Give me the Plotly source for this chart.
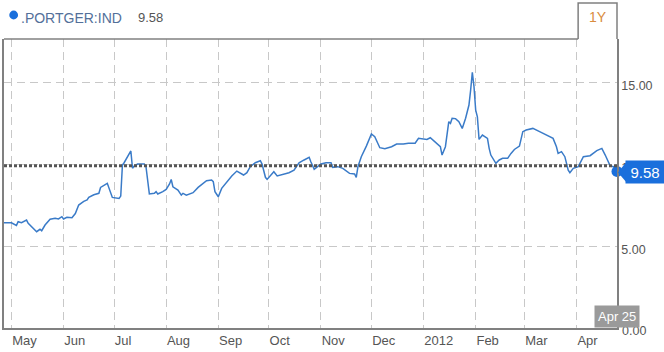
import plotly.graph_objects as go

# ---- data ----
dates = [
    "2011-04-26",
    "2011-05-01", "2011-05-04", "2011-05-05", "2011-05-07", "2011-05-10", "2011-05-11", "2011-05-13",
    "2011-05-16", "2011-05-18", "2011-05-19", "2011-05-21", "2011-05-24", "2011-05-27", "2011-05-29", "2011-05-31",
    "2011-06-01", "2011-06-03", "2011-06-06", "2011-06-08", "2011-06-10", "2011-06-13", "2011-06-15",
    "2011-06-16", "2011-06-19", "2011-06-22", "2011-06-23", "2011-06-27", "2011-06-30",
    "2011-07-04", "2011-07-05", "2011-07-06", "2011-07-07", "2011-07-11", "2011-07-12", "2011-07-13", "2011-07-15",
    "2011-07-19", "2011-07-20", "2011-07-22", "2011-07-25", "2011-07-26", "2011-07-27", "2011-07-30",
    "2011-08-01", "2011-08-03", "2011-08-04", "2011-08-05", "2011-08-08", "2011-08-10", "2011-08-11", "2011-08-13",
    "2011-08-17", "2011-08-20", "2011-08-22", "2011-08-25", "2011-08-28", "2011-08-29", "2011-08-30",
    "2011-09-01", "2011-09-03", "2011-09-06", "2011-09-09", "2011-09-12", "2011-09-14", "2011-09-16",
    "2011-09-18", "2011-09-20", "2011-09-23", "2011-09-26", "2011-09-27", "2011-09-29", "2011-09-30",
    "2011-10-02", "2011-10-04", "2011-10-06", "2011-10-08", "2011-10-11", "2011-10-13", "2011-10-16",
    "2011-10-19", "2011-10-22", "2011-10-25", "2011-10-26", "2011-10-28", "2011-10-30",
    "2011-11-01", "2011-11-04", "2011-11-07", "2011-11-08", "2011-11-11", "2011-11-14", "2011-11-17",
    "2011-11-18", "2011-11-21", "2011-11-22", "2011-11-23", "2011-11-25", "2011-11-28", "2011-11-30",
    "2011-12-01", "2011-12-03", "2011-12-06", "2011-12-09", "2011-12-13", "2011-12-16", "2011-12-20",
    "2011-12-23", "2011-12-27", "2011-12-29",
    "2012-01-01", "2012-01-03", "2012-01-05", "2012-01-07", "2012-01-09", "2012-01-11", "2012-01-12",
    "2012-01-14", "2012-01-16", "2012-01-17", "2012-01-18", "2012-01-20", "2012-01-22", "2012-01-24",
    "2012-01-26", "2012-01-28", "2012-01-29", "2012-01-30", "2012-01-31",
    "2012-02-01", "2012-02-02", "2012-02-03", "2012-02-05", "2012-02-08", "2012-02-09", "2012-02-10",
    "2012-02-13", "2012-02-15", "2012-02-17", "2012-02-20", "2012-02-22", "2012-02-24", "2012-02-27", "2012-02-29",
    "2012-03-02", "2012-03-06", "2012-03-10", "2012-03-14", "2012-03-18", "2012-03-20", "2012-03-21",
    "2012-03-23", "2012-03-25", "2012-03-27", "2012-03-28", "2012-03-30",
    "2012-04-02", "2012-04-05", "2012-04-09", "2012-04-13", "2012-04-16", "2012-04-18", "2012-04-20",
    "2012-04-21", "2012-04-23", "2012-04-25",
]

values = [
    6.44,
    6.44, 6.28, 6.5, 6.44, 6.6, 6.4, 6.2, 5.89, 6.04, 5.95, 6.3, 6.65, 6.71, 6.67, 6.81,
    6.67, 6.77, 6.75, 7.0, 7.52, 7.75, 7.83, 7.99, 8.15, 8.24, 8.6, 8.85, 7.99,
    7.93, 8.07, 9.97, 10.11, 10.83, 9.77, 9.91, 10.03, 10.03, 9.87, 8.2, 8.24, 8.34, 8.2, 8.34,
    8.48, 8.81, 9.09, 8.64, 8.44, 8.13, 8.24, 8.13, 8.28, 8.6, 8.75, 9.01, 9.05, 8.95, 8.34,
    8.03, 8.54, 8.95, 9.3, 9.6, 9.46, 9.36, 9.5, 9.87, 10.11, 10.23, 10.03, 9.22, 9.09,
    9.36, 9.56, 9.3, 9.36, 9.46, 9.5, 9.66, 10.11, 10.28, 10.44, 10.17, 9.71, 9.87,
    10.03, 10.11, 10.11, 9.83, 9.87, 9.77, 9.56, 9.46, 9.42, 9.22, 9.87, 10.48, 11.13, 11.7,
    11.87, 11.7, 11.03, 10.97, 11.09, 11.25, 11.25, 11.3, 11.3, 11.6,
    11.56, 11.54, 11.64, 11.46, 11.3, 11.09, 10.58, 11.09, 12.62, 12.52, 12.83, 12.81, 12.62, 12.21,
    12.83, 13.64, 14.56, 15.64, 14.76,
    13.33, 12.92, 11.54, 11.8, 11.6, 10.99, 10.58, 10.07, 10.28, 10.38, 10.38, 10.68, 10.92, 11.13, 12.01,
    12.11, 12.21, 12.01, 11.8, 11.6, 11.09, 10.68, 10.79, 10.48, 9.66, 9.5, 9.77,
    9.87, 10.48, 10.54, 10.85, 10.99, 10.58, 10.07, 9.91, 9.87, 9.58,
]

series_name = ".PORTGER:IND"
period_label = "1Y"
last_date_label = "Apr 25"
ref_level = 9.93

month_ticks = ["2011-05-01", "2011-06-01", "2011-07-01", "2011-08-01", "2011-09-01", "2011-10-01",
               "2011-11-01", "2011-12-01", "2012-01-01", "2012-02-01", "2012-03-01", "2012-04-01"]
month_labels = ["May", "Jun", "Jul", "Aug", "Sep", "Oct", "Nov", "Dec", "2012", "Feb", "Mar", "Apr"]

y_ticks = [0, 5, 10, 15]
y_labels = ["0.00", "5.00", "10.00", "15.00"]

assert len(dates) == len(values)

FONT = "Liberation Sans, Arial, sans-serif"
LINE_BLUE = "#3a7bc8"
TAG_BLUE = "#1a6fdc"
FRAME = "#808080"
GRID = "#c8c8c8"

fig = go.Figure()
fig.add_trace(go.Scatter(
    x=dates, y=values, mode="lines",
    line=dict(color=LINE_BLUE, width=1.5),
    hoverinfo="skip",
))
fig.add_trace(go.Scatter(
    x=[dates[-1]], y=[values[-1]], mode="markers",
    marker=dict(color=TAG_BLUE, size=11),
    cliponaxis=False, hoverinfo="skip",
))

shapes = [
    # reference dotted line
    dict(type="line", xref="paper", yref="y", x0=0, x1=1, y0=ref_level, y1=ref_level,
         line=dict(color="#555555", width=3, dash="3px,2px"), layer="above"),
    # top frame line up to the tab
    dict(type="line", xref="paper", yref="paper", x0=0, x1=0.9366, y0=1, y1=1,
         line=dict(color=FRAME, width=1.5)),
    # 1Y tab
    dict(type="path", xref="paper", yref="paper",
         path="M 0.9366,1 L 0.9366,1.1246 L 1,1.1246 L 1,1",
         line=dict(color=FRAME, width=1.5)),
    # value tag pointer
    dict(type="path", xref="paper", yref="y", xsizemode="pixel", ysizemode="pixel",
         xanchor=1, yanchor=values[-1],
         path="M 1,-1.2 L 10,-11.7 L 12,-11.7 L 12,10.3 L 10,10.3 Z",
         fillcolor=TAG_BLUE, line=dict(width=0), layer="above"),
    # legend dot
    dict(type="circle", xref="paper", yref="paper", xsizemode="pixel", ysizemode="pixel",
         xanchor=0.01577, yanchor=1.083, x0=-4.4, x1=4.4, y0=-4.4, y1=4.4,
         fillcolor=TAG_BLUE, line=dict(width=0)),
]

annotations = [
    dict(text=series_name, xref="paper", yref="paper", x=0.0244, y=1.0727,
         xanchor="left", yanchor="middle", showarrow=False,
         font=dict(family=FONT, size=14, color="#53709a")),
    dict(text=f"{values[-1]:.2f}", xref="paper", yref="paper", x=0.2146, y=1.0727,
         xanchor="left", yanchor="middle", showarrow=False,
         font=dict(family=FONT, size=13, color="#555555")),
    dict(text=period_label, xref="paper", yref="paper", x=0.9683, y=1.076,
         xanchor="center", yanchor="middle", showarrow=False,
         font=dict(family=FONT, size=14, color="#d98c3e")),
    # bottom y tick label (drawn as text so it is not dropped at the axis end)
    dict(text=y_labels[0], xref="paper", yref="y", x=1, y=y_ticks[0],
         xanchor="left", yanchor="middle", xshift=3, yshift=-3, showarrow=False,
         font=dict(family=FONT, size=12.5, color="#555555")),
    # value tag body
    dict(text=f"{values[-1]:.2f}", xref="paper", yref="y", x=1, y=values[-1],
         xanchor="center", yanchor="middle", xshift=28, yshift=-0.7, showarrow=False,
         width=38, height=22, borderpad=0, bgcolor=TAG_BLUE, align="center",
         font=dict(family=FONT, size=15, color="white")),
    dict(text=last_date_label, xref="x", yref="y", x=dates[-1], y=0,
         xanchor="center", yanchor="bottom", showarrow=False,
         bgcolor="#9a9a9a", borderpad=3,
         font=dict(family=FONT, size=13, color="white")),
]

fig.update_layout(
    width=664, height=352,
    margin=dict(l=2, r=47, t=39, b=24),
    paper_bgcolor="white", plot_bgcolor="white",
    showlegend=False,
    font=dict(family=FONT, size=13, color="#555555"),
    shapes=shapes, annotations=annotations,
    xaxis=dict(
        type="date", range=["2011-04-26 14:24", "2012-04-25 00:00"],
        tickmode="array", tickvals=month_ticks, ticktext=month_labels,
        ticklabelposition="outside right", ticks="",
        showgrid=True, gridcolor=GRID, griddash="8px,5px", gridwidth=1,
        showline=True, linecolor=FRAME, linewidth=1.5, zeroline=False,
        tickfont=dict(family=FONT, size=13, color="#555555"),
        fixedrange=True,
    ),
    yaxis=dict(
        side="right", range=[0, 17.68],
        tickmode="array", tickvals=y_ticks[1:], ticktext=y_labels[1:], ticks="",
        ticklabelshift=3,
        showgrid=True, gridcolor=GRID, griddash="8px,5px", gridwidth=1,
        showline=True, mirror=True, linecolor=FRAME, linewidth=1.5, zeroline=False,
        tickfont=dict(family=FONT, size=12.5, color="#555555"),
        fixedrange=True,
    ),
)

fig.write_html("out.html", config={"displayModeBar": False})
